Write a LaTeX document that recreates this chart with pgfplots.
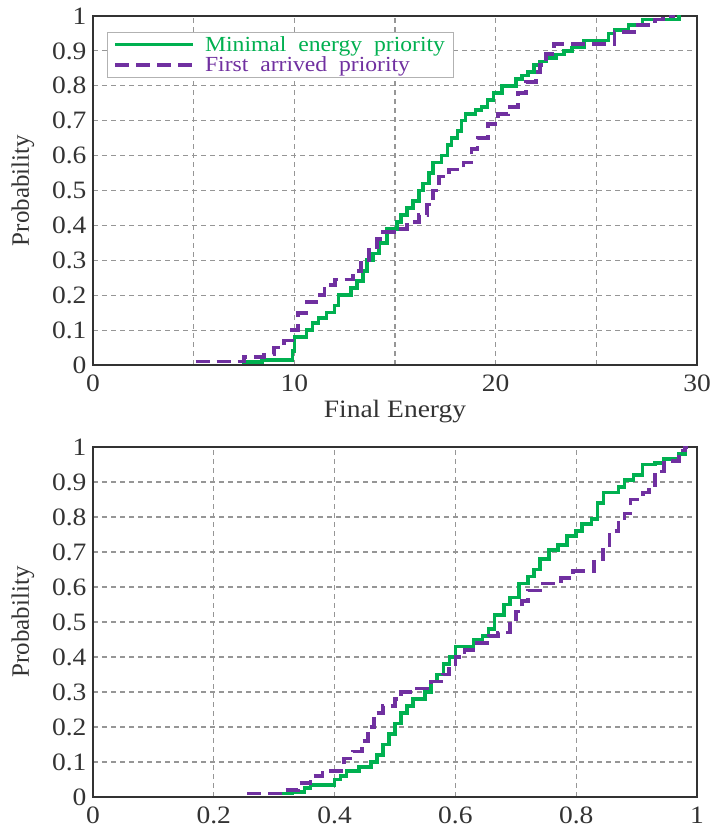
\documentclass[border=0pt]{standalone}
\usepackage{fontspec}
\setmainfont{Liberation Serif}[FakeStretch=1.1]
\newfontfamily\plainserif{Liberation Serif}
\usepackage{pgfplots}
\pgfplotsset{compat=1.18}

\definecolor{cdfgreen}{RGB}{0,176,80}
\definecolor{cdfpurple}{RGB}{112,48,160}
\definecolor{gridgray}{RGB}{150,150,150}

\pgfplotsset{
  cdfstyle/.style={
    scale only axis,
    width=604pt,
    ymin=0, ymax=1,
    ytick={0,0.1,...,1},
    yticklabels={0,0.1,0.2,0.3,0.4,0.5,0.6,0.7,0.8,0.9,1},
    grid=major,
    major grid style={gridgray, dash pattern=on 5pt off 4pt, line width=1.1pt},
    major tick length=0pt,
    axis line style={line width=1.4pt, black!80},
    /pgf/number format/assume math mode=true,
    tick label style={font=\fontsize{25}{30}\selectfont, text=black!80},
    label style={font=\fontsize{25}{30}\selectfont, text=black!80},
    ylabel={\plainserif Probability},
    ylabel style={at={(axis description cs:-0.097,0.5)}, anchor=south, inner sep=0pt},
    yticklabel style={xshift=-3pt},
    xticklabel style={yshift=-6pt},
  },
  green line/.style={cdfgreen, line width=3.6pt, const plot},
  purple line/.style={cdfpurple, line width=3.8pt, const plot, dash pattern=on 14pt off 7pt},
}

\begin{document}
\begin{tikzpicture}
% top: final energy
\begin{axis}[
  cdfstyle,
  at={(93pt,466pt)}, anchor=south west,
  height=349pt,
  xmin=0, xmax=30,
  xtick={0,5,...,30},
  xticklabels={0,,10,,20,,30},
  xlabel={Final Energy},
  xlabel style={at={(axis description cs:0.5,0)}, anchor=north, inner sep=0pt, yshift=-35pt},
  legend style={at={(axis description cs:0.023,0.954)}, anchor=north west,
    draw=black!30, line width=0.8pt, font=\fontsize{21.5}{24}\selectfont,
    inner xsep=6pt, inner ysep=2pt, row sep=0pt},
  legend cell align=left,
  legend image code/.code={\draw[#1] (0pt,0pt) -- (78pt,0pt);},
]
\addplot[green line] coordinates {
(7.4,0.008)(8.4,0.015)(9.9,0.04)(10.0,0.08)(10.6,0.10)(10.9,0.12)(11.2,0.135)(11.6,0.15)
(12.0,0.17)(12.2,0.20)(12.8,0.22)(13.1,0.24)(13.4,0.27)(13.6,0.30)(13.9,0.32)(14.2,0.35)
(14.6,0.39)(15.1,0.41)(15.3,0.43)(15.6,0.45)(15.9,0.47)(16.2,0.50)(16.4,0.52)(16.7,0.55)
(16.9,0.58)(17.3,0.60)(17.6,0.63)(17.8,0.65)(18.1,0.67)(18.3,0.70)(18.5,0.72)(19.0,0.73)
(19.3,0.74)(19.6,0.76)(19.9,0.78)(20.3,0.80)(21.0,0.82)(21.3,0.83)(21.6,0.84)(21.9,0.86)
(22.2,0.87)(22.5,0.88)(23.0,0.89)(23.4,0.90)(23.8,0.91)(24.4,0.93)(25.6,0.95)(25.9,0.96)
(26.6,0.975)(27.3,0.99)(29.1,1.0)(29.2,1.0)
};
\addplot[purple line] coordinates {
(5.1,0.01)(7.5,0.024)(8.5,0.03)(9.0,0.05)(9.5,0.07)(9.9,0.10)(10.2,0.15)(10.6,0.18)
(11.1,0.20)(11.5,0.23)(12.0,0.245)(12.9,0.27)(13.3,0.30)(13.7,0.33)(14.1,0.36)(14.4,0.38)
(15.2,0.39)(15.6,0.41)(16.2,0.43)(16.6,0.46)(16.9,0.50)(17.2,0.54)(17.7,0.56)(18.4,0.58)
(18.8,0.62)(19.1,0.65)(19.6,0.69)(20.1,0.72)(20.6,0.74)(21.1,0.78)(21.5,0.81)(22.0,0.84)
(22.2,0.86)(22.5,0.89)(22.9,0.92)(25.9,0.955)(26.9,0.975)(27.9,0.99)(28.3,1.0)(28.9,1.0)
};
\legend{\hspace*{8pt}\textcolor{cdfgreen}{Minimal\ \ energy\ \ priority}, \hspace*{8pt}\textcolor{cdfpurple}{First\ \ arrived\ \ priority}}
\end{axis}

% bottom
\begin{axis}[
  cdfstyle,
  at={(93pt,34pt)}, anchor=south west,
  height=350pt,
  xmin=0, xmax=1,
  xtick={0,0.2,...,1},
  xticklabels={0,0.2,0.4,0.6,0.8,1},
]
\addplot[green line] coordinates {
(0.312,0.01)(0.33,0.015)(0.35,0.025)(0.36,0.035)(0.40,0.05)(0.41,0.06)(0.42,0.075)(0.44,0.085)
(0.46,0.10)(0.47,0.12)(0.48,0.15)(0.49,0.18)(0.50,0.21)(0.51,0.24)(0.52,0.26)(0.53,0.28)
(0.55,0.30)(0.56,0.33)(0.57,0.35)(0.58,0.38)(0.59,0.40)(0.60,0.43)(0.63,0.45)(0.645,0.46)
(0.655,0.48)(0.665,0.52)(0.68,0.55)(0.69,0.57)(0.705,0.61)(0.72,0.63)(0.73,0.65)(0.74,0.68)
(0.755,0.705)(0.77,0.72)(0.785,0.745)(0.80,0.76)(0.81,0.78)(0.825,0.795)(0.835,0.84)(0.845,0.87)
(0.87,0.885)(0.88,0.905)(0.895,0.92)(0.91,0.95)(0.93,0.955)(0.945,0.965)(0.97,0.98)(0.98,1.0)
(0.985,1.0)
};
\addplot[purple line] coordinates {
(0.255,0.01)(0.31,0.02)(0.34,0.04)(0.36,0.06)(0.38,0.075)(0.415,0.11)(0.43,0.13)(0.445,0.16)
(0.455,0.20)(0.465,0.24)(0.48,0.26)(0.50,0.28)(0.51,0.30)(0.53,0.31)(0.56,0.33)(0.58,0.35)
(0.59,0.38)(0.60,0.40)(0.615,0.42)(0.635,0.44)(0.655,0.46)(0.67,0.47)(0.69,0.50)(0.70,0.53)
(0.71,0.56)(0.72,0.59)(0.74,0.61)(0.775,0.625)(0.795,0.645)(0.83,0.68)(0.845,0.72)(0.855,0.76)
(0.87,0.79)(0.88,0.81)(0.89,0.85)(0.91,0.87)(0.92,0.89)(0.93,0.93)(0.945,0.96)(0.97,0.99)
(0.98,1.0)(0.985,1.0)
};
\end{axis}

\pgfresetboundingbox
\path[use as bounding box] (0pt,0pt) rectangle (714pt,831pt);
\end{tikzpicture}
\end{document}
